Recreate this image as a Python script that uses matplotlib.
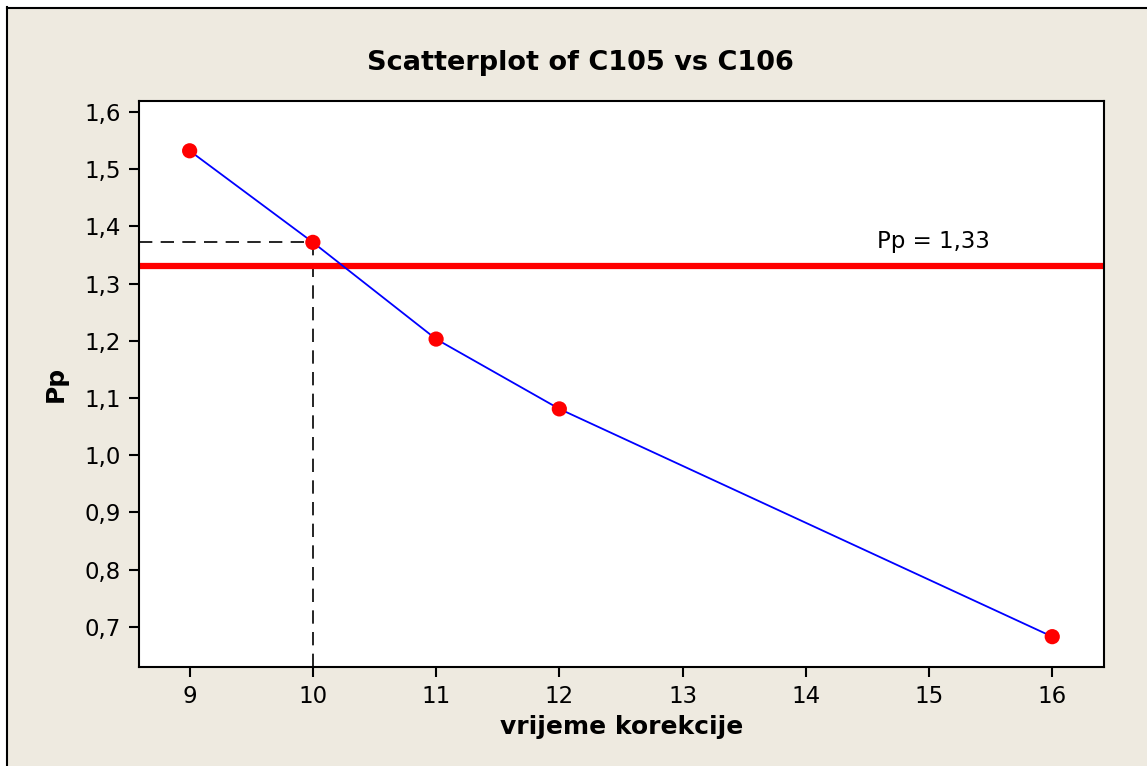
import matplotlib
matplotlib.use("Agg")
import matplotlib.pyplot as plt
from matplotlib.patches import Rectangle

x_vals = [9, 10, 11, 12, 16]
pp_vals = [1.532, 1.372, 1.203, 1.081, 0.683]
x_ticks = [9, 10, 11, 12, 13, 14, 15, 16]
y_ticks = [0.7, 0.8, 0.9, 1.0, 1.1, 1.2, 1.3, 1.4, 1.5, 1.6]
y_tick_labels = ["0,7", "0,8", "0,9", "1,0", "1,1", "1,2", "1,3", "1,4", "1,5", "1,6"]
target_pp = 1.33
marked_x = 10
marked_pp = 1.372
label_text = "Pp = 1,33"

plt.rcParams['font.family'] = ['DejaVu Sans']
W, H = 1147, 766
fig = plt.figure(figsize=(W / 100, H / 100), dpi=100)
fig.patch.set_facecolor("white")

# beige panel with black left/top edge
bg = Rectangle((7 / W, 0), 1.2, (H - 7) / H, transform=fig.transFigure,
               facecolor="#EEEAE0", edgecolor="none", zorder=-10)
fig.patches.append(bg)
fig.add_artist(plt.Line2D([7.5 / W, 7.5 / W], [0, (H - 7) / H], color="black", lw=1.5, transform=fig.transFigure))
fig.add_artist(plt.Line2D([7.5 / W, 1], [(H - 7.5) / H, (H - 7.5) / H], color="black", lw=1.5, transform=fig.transFigure))

left, right, top, bottom = 139, 1104, 101, 667
ax = fig.add_axes([left / W, 1 - bottom / H, (right - left) / W, (bottom - top) / H])
ax.set_facecolor("white")
ax.set_xlim(8.589, 16.42)
ax.set_ylim(0.630, 1.619)

ax.axhline(target_pp, color="#FF0000", lw=4.5, zorder=2)
ax.plot([ax.get_xlim()[0], marked_x], [marked_pp, marked_pp], color="black", lw=1.2,
        dashes=(8, 5), zorder=1)
ax.plot([marked_x, marked_x], [ax.get_ylim()[0], marked_pp], color="black", lw=1.2,
        dashes=(8, 5), zorder=1)
ax.plot(x_vals, pp_vals, color="#0000FF", lw=1.3, zorder=3)
ax.scatter(x_vals, pp_vals, s=120, color="#FF0000", zorder=4, edgecolors="none")

ax.text(14.58, 1.373, label_text, fontsize=16.5, va="center", ha="left")

ax.set_xticks(x_ticks)
ax.set_xticklabels([str(v) for v in x_ticks])
ax.set_yticks(y_ticks)
ax.set_yticklabels(y_tick_labels)
ax.tick_params(axis="both", labelsize=16.5, length=7, width=1.5, color="black", pad=6)
for s in ax.spines.values():
    s.set_linewidth(1.5)

ax.set_xlabel("vrijeme korekcije", fontsize=18, fontweight="bold", labelpad=5)
ax.set_ylabel("Pp", fontsize=18, fontweight="bold", labelpad=12)

fig.text(580 / W, 1 - 63 / H, "Scatterplot of C105 vs C106", fontsize=19.5,
         fontweight="bold", ha="center", va="center")

fig.savefig("out.png", dpi=100, facecolor=fig.get_facecolor())
